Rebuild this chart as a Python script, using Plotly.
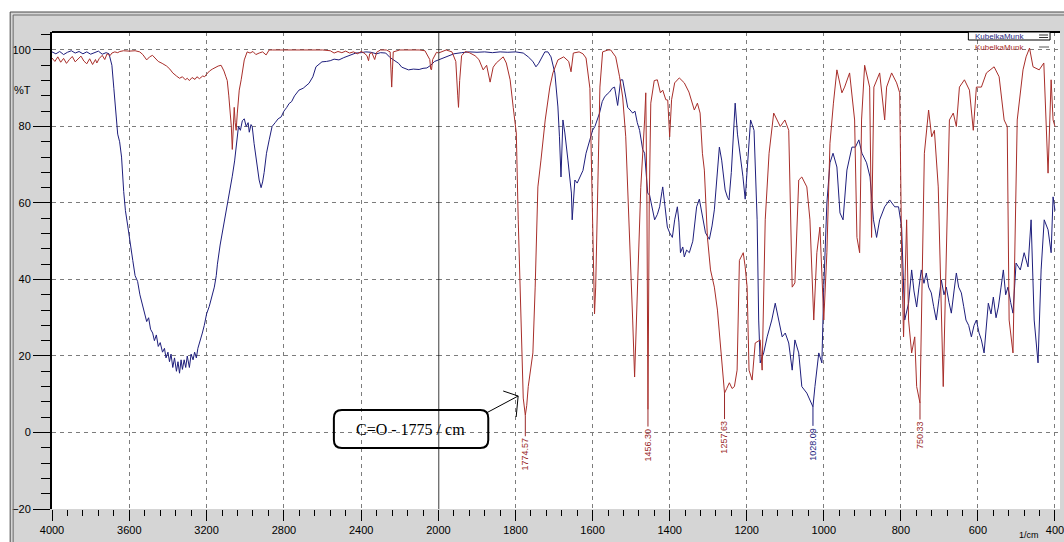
import plotly.graph_objects as go

# ---------------- data ----------------
series_names = ["KubelkaMunk", "KubelkaMunk"]

# blue spectrum, 4000 -> 2000 1/cm
blue_wn_high = [4000, 3980, 3960, 3940, 3920, 3900, 3880, 3860, 3840, 3820,
                3800, 3780, 3760, 3740, 3720, 3705, 3690, 3680, 3670, 3660,
                3650, 3640, 3629, 3620, 3608, 3595, 3582, 3570, 3557, 3545,
                3535, 3521, 3510, 3500, 3490, 3479, 3470, 3460, 3450, 3440,
                3428, 3418, 3410, 3400, 3392, 3384, 3375, 3366, 3356, 3348,
                3340, 3332, 3325, 3316, 3308, 3300, 3289, 3280, 3270, 3262,
                3253, 3245, 3235, 3222, 3212, 3200, 3186, 3175, 3160, 3150,
                3144, 3130, 3119, 3105, 3093, 3080, 3067, 3055, 3046, 3035,
                3025, 3015, 3005, 2995, 2985, 2979, 2970, 2964, 2954, 2945,
                2938, 2928, 2918, 2910, 2902, 2890, 2876, 2861, 2845, 2830,
                2814, 2800, 2785, 2773, 2760, 2745, 2722, 2700, 2670, 2650,
                2634, 2615, 2603, 2580, 2560, 2540, 2515, 2490, 2460, 2428,
                2400, 2376, 2350, 2320, 2300, 2273, 2250, 2220, 2206, 2190,
                2170, 2155, 2130, 2100, 2080, 2060, 2040, 2020, 2000]
blue_t_high = [99.5, 99.0, 99.6, 98.8, 99.4, 99.8, 99.2, 99.6, 99.0, 99.5,
               98.9, 99.4, 99.7, 98.9, 99.3, 99.0, 96.0, 90.0, 83.0, 78.0,
               76.0, 72.0, 63.0, 58.0, 54.0, 49.0, 45.0, 41.0, 39.5, 36.0,
               34.0, 31.5, 29.0, 30.0, 27.0, 26.0, 24.0, 25.5, 22.5, 23.5,
               21.0, 22.0, 19.5, 21.0, 18.5, 20.5, 17.0, 19.5, 16.0, 18.5,
               15.5, 19.0, 16.5, 19.0, 17.0, 20.0, 17.0, 20.5, 19.0, 21.0,
               19.5, 22.0, 23.5, 26.0, 28.0, 31.0, 33.0, 35.0, 38.0, 41.0,
               44.0, 49.0, 52.0, 56.0, 59.0, 63.0, 67.0, 71.0, 76.0, 80.0,
               79.0, 81.5, 82.0, 80.0, 81.0, 78.5, 80.5, 80.0, 75.5, 72.0,
               69.5, 66.0, 64.0, 65.5, 68.0, 73.0, 76.5, 80.0, 81.0, 82.0,
               82.5, 84.0, 85.0, 86.0, 86.5, 88.0, 89.5, 90.0, 91.3, 93.0,
               95.6, 96.5, 96.9, 97.0, 97.2, 97.6, 97.4, 98.0, 98.5, 99.2,
               99.3, 99.5, 99.4, 99.0, 99.3, 99.2, 98.0, 97.0, 96.5, 95.5,
               95.0, 94.8, 95.0, 94.9, 95.2, 95.3, 96.0, 97.0, 97.4]

# blue spectrum, 2000 -> 400 1/cm
blue_wn_low = [2000, 1980, 1960, 1940, 1920, 1900, 1880, 1860, 1840, 1820,
               1800, 1780, 1767, 1755, 1747, 1740, 1735, 1724, 1716, 1708,
               1698, 1690, 1686, 1682, 1677, 1672, 1664, 1658, 1655, 1653,
               1650, 1646, 1640, 1632, 1625, 1617, 1607, 1600, 1594, 1588,
               1582, 1575, 1569, 1562, 1556, 1549, 1543, 1535, 1530, 1527,
               1522, 1517, 1509, 1500, 1496, 1490, 1484, 1478, 1470, 1465,
               1457, 1452, 1444, 1439, 1432, 1426, 1420, 1418, 1412, 1406,
               1400, 1393, 1387, 1380, 1376, 1372, 1366, 1362, 1356, 1349,
               1340, 1336, 1330, 1323, 1316, 1307, 1297, 1290, 1284, 1278,
               1271, 1265, 1256, 1250, 1246, 1240, 1236, 1230, 1224, 1217,
               1210, 1204, 1197, 1190, 1186, 1181, 1173, 1169, 1165, 1156,
               1147, 1135, 1126, 1117, 1108, 1100, 1091, 1082, 1075, 1065,
               1057, 1044, 1036, 1028.09, 1023, 1013, 1005, 1000, 992, 984,
               976, 966, 958, 950, 940, 927, 918, 909, 901, 889,
               880, 871, 863, 855, 842, 829, 816, 806, 798, 790,
               780, 776, 772, 766, 759, 753, 747, 740, 734, 728,
               721, 715, 708, 701, 695, 688, 682, 675, 669, 662,
               656, 650, 643, 637, 631, 624, 617, 610, 604, 597,
               591, 584, 578, 573, 566, 560, 553, 547, 540, 534,
               528, 522, 515, 509, 501, 490, 480, 470, 462, 454,
               444, 436, 428, 418, 410, 405, 400]
blue_t_low = [97.4, 98.2, 99.0, 99.3, 99.5, 99.4, 99.5, 99.3, 99.5, 99.4,
              99.5, 99.2, 98.2, 97.0, 95.6, 96.5, 97.4, 99.5, 99.5, 98.2,
              94.0, 85.1, 77.3, 66.8, 81.7, 78.3, 71.2, 65.0, 62.6, 55.6,
              60.8, 66.0, 65.2, 67.0, 68.5, 73.0, 76.5, 79.0, 80.0, 82.0,
              83.5, 86.5, 87.7, 88.5, 89.0, 90.0, 90.3, 85.5, 91.0, 92.2,
              92.2, 89.0, 85.0, 84.0, 83.5, 84.0, 81.0, 79.0, 74.0, 73.0,
              62.6, 62.0, 57.4, 55.6, 57.0, 59.0, 63.0, 64.2, 59.0, 53.7,
              52.2, 51.0, 55.6, 59.0, 55.0, 47.0, 48.5, 45.9, 47.7, 47.0,
              50.0, 53.7, 59.0, 61.0, 57.0, 52.2, 50.5, 54.0, 58.2, 66.0,
              74.6, 71.2, 63.4, 61.5, 60.8, 68.0, 76.0, 86.1, 78.0, 73.0,
              67.0, 61.0, 72.0, 81.7, 80.5, 79.0, 55.6, 29.4, 18.2, 20.8,
              25.0, 29.4, 33.8, 29.4, 25.0, 26.0, 23.4, 16.3, 24.2, 20.8,
              12.0, 10.3, 8.5, 6.7, 12.0, 20.8, 18.2, 38.0, 60.0, 70.5,
              73.0, 69.4, 57.4, 55.6, 68.6, 74.6, 74.6, 76.5, 73.0, 70.5,
              66.8, 55.6, 51.0, 55.6, 59.0, 60.8, 59.0, 59.0, 53.7, 29.4,
              33.8, 38.0, 42.5, 37.0, 32.8, 38.0, 42.5, 39.0, 41.7, 38.0,
              36.5, 33.0, 29.4, 35.0, 39.9, 36.0, 38.0, 34.0, 31.2, 37.0,
              41.7, 38.0, 36.5, 33.0, 29.4, 28.0, 25.0, 28.0, 29.4, 26.0,
              24.2, 20.8, 28.0, 33.8, 31.0, 35.4, 30.0, 32.8, 38.0, 42.5,
              36.0, 38.0, 34.0, 31.2, 44.3, 42.5, 47.0, 43.3, 55.6, 29.4,
              18.2, 42.5, 55.6, 53.0, 47.0, 61.6, 58.0]

# red spectrum, 4000 -> 2000 1/cm
red_wn_high = [4000, 3985, 3970, 3955, 3940, 3925, 3910, 3895, 3880, 3865,
               3850, 3835, 3820, 3805, 3790, 3775, 3768, 3755, 3740, 3727,
               3715, 3700, 3690, 3675, 3660, 3649, 3630, 3600, 3570, 3546,
               3530, 3510, 3495, 3480, 3469, 3450, 3430, 3407, 3390, 3375,
               3356, 3340, 3325, 3310, 3300, 3289, 3275, 3260, 3250, 3237,
               3220, 3210, 3201, 3185, 3170, 3160, 3140, 3125, 3110, 3100,
               3093, 3085, 3078, 3072, 3067, 3062, 3057, 3052, 3047, 3041,
               3036, 3031, 3021, 3012, 3005, 2990, 2975, 2960, 2945, 2928,
               2910, 2892, 2876, 2860, 2800, 2700, 2600, 2560, 2540, 2520,
               2500, 2480, 2460, 2440, 2420, 2400, 2385, 2370, 2362, 2356,
               2345, 2330, 2320, 2300, 2270, 2250, 2246, 2242, 2238, 2234,
               2200, 2150, 2100, 2070, 2055, 2045, 2040, 2036, 2030, 2020,
               2010, 2000]
red_t_high = [97.9, 97.0, 98.2, 96.8, 97.8, 96.5, 97.5, 98.3, 96.9, 97.6,
              98.4, 97.1, 96.4, 97.7, 96.2, 97.5, 96.6, 97.8, 98.6, 97.5,
              99.0, 98.5, 99.2, 99.5, 99.3, 99.6, 99.8, 99.7, 99.8, 99.5,
              98.8, 97.4, 98.2, 98.6, 98.0, 97.0, 96.5, 95.8, 95.0, 94.0,
              93.2, 92.6, 93.0, 92.2, 92.6, 92.0, 92.8, 92.3, 93.0, 92.5,
              93.2, 93.0, 93.6, 94.5, 95.0, 95.3, 95.8, 96.0, 94.5, 93.0,
              92.0, 88.0, 84.0, 80.0, 74.0, 78.0, 85.0, 81.0, 79.0, 83.5,
              87.0, 89.5, 92.2, 95.5, 97.4, 99.5, 99.2, 99.6, 98.8, 99.2,
              99.5, 98.7, 100, 100, 100, 100, 100, 99.8, 99.2, 99.6,
              99.3, 99.7, 99.2, 99.5, 99.0, 99.6, 99.2, 98.5, 97.2, 99.0,
              99.3, 97.5, 99.4, 100, 100, 99.5, 95.0, 90.3, 95.0, 99.5,
              100, 100, 100, 99.8, 98.5, 97.5, 95.0, 94.8, 97.5, 98.5,
              99.4, 99.2]

# red spectrum, 2000 -> 400 1/cm
red_wn_low = [2000, 1990, 1980, 1965, 1955, 1950, 1948, 1945, 1940, 1930,
              1920, 1905, 1895, 1884, 1875, 1866, 1858, 1850, 1840, 1832,
              1824, 1814, 1806, 1798, 1793, 1788, 1785, 1780, 1774.57, 1771,
              1767, 1760, 1755, 1749, 1742, 1734, 1723, 1711, 1703, 1690,
              1675, 1662, 1656, 1650, 1635, 1625, 1617, 1607, 1603, 1598,
              1595, 1592, 1586, 1581, 1574, 1560, 1553, 1540, 1530, 1522,
              1514, 1505, 1496, 1491, 1488, 1483, 1475, 1465, 1462, 1459,
              1456.30, 1453, 1449, 1440, 1432, 1424, 1418, 1410, 1405, 1400,
              1395, 1387, 1375, 1362, 1350, 1336, 1328, 1321, 1315, 1310,
              1302, 1294, 1284, 1276, 1268, 1262, 1257.63, 1252, 1245, 1238,
              1232, 1225, 1219, 1209, 1204, 1199, 1194, 1186, 1178, 1165,
              1160, 1152, 1142, 1130, 1121, 1113, 1101, 1091, 1082, 1075,
              1065, 1057, 1044, 1036, 1026, 1018, 1010, 1005, 1000, 992,
              984, 975, 966, 953, 946, 933, 920, 914, 907, 902,
              894, 881, 876, 870, 855, 842, 837, 824, 811, 803,
              798, 793, 785, 780, 772, 764, 759, 750.33, 745, 739,
              728, 720, 713, 703, 690, 682, 674, 664, 656, 648,
              635, 622, 612, 604, 591, 578, 558, 545, 532, 524,
              519, 509, 503, 498, 483, 475, 466, 457, 441, 429,
              418, 410, 405, 400]
red_t_low = [99.2, 99.6, 100, 99.5, 97.0, 88.0, 85.0, 92.0, 98.5, 99.6,
             99.3, 98.5, 97.5, 94.8, 96.0, 91.6, 95.5, 96.6, 97.6, 98.2,
             96.6, 92.2, 85.0, 78.3, 55.6, 38.0, 20.8, 9.0, 4.5, 7.0,
             12.0, 17.0, 20.8, 38.0, 64.2, 71.2, 81.7, 90.3, 94.0, 97.4,
             98.2, 97.0, 94.3, 99.2, 99.5, 99.0, 97.9, 90.0, 73.0, 46.9,
             31.0, 38.0, 64.0, 90.3, 99.5, 100, 100, 98.2, 93.0, 87.7,
             77.3, 55.6, 29.4, 14.5, 25.0, 38.0, 64.0, 81.7, 88.8, 60.0,
             6.0, 60.0, 86.1, 92.0, 92.2, 88.8, 89.5, 87.0, 86.9, 77.3,
             87.0, 91.4, 92.7, 91.4, 89.0, 84.3, 86.1, 83.5, 73.0, 68.6,
             51.0, 42.5, 38.0, 32.0, 22.0, 14.0, 10.3, 11.5, 13.0, 11.5,
             12.0, 16.3, 45.0, 47.0, 43.3, 38.0, 16.3, 13.7, 23.4, 24.2,
             16.3, 55.6, 73.0, 83.5, 81.7, 80.0, 81.7, 79.0, 38.0, 39.1,
             66.0, 66.8, 64.2, 55.6, 29.4, 47.0, 53.7, 42.5, 29.4, 47.0,
             75.6, 86.1, 94.8, 88.8, 90.3, 94.0, 81.7, 51.0, 47.0, 81.7,
             96.0, 90.3, 51.0, 90.3, 94.0, 81.7, 90.3, 94.0, 91.4, 88.8,
             47.0, 25.0, 55.6, 29.4, 20.8, 25.0, 12.0, 7.7, 38.0, 73.0,
             84.3, 77.3, 79.0, 64.2, 12.0, 47.0, 81.7, 83.5, 80.0, 90.3,
             92.2, 89.5, 79.0, 90.3, 90.3, 94.0, 95.6, 93.0, 81.7, 80.0,
             29.4, 20.8, 55.6, 81.7, 94.8, 98.2, 100.5, 95.6, 94.8, 96.6,
             67.8, 92.2, 81.7, 80.0]

x_ticks_high = [4000, 3600, 3200, 2800, 2400]
x_ticks_low = [2000, 1800, 1600, 1400, 1200, 1000, 800, 600, 400]
y_ticks = [-20, 0, 20, 40, 60, 80, 100]

peak_wn = [1774.57, 1456.30, 1257.63, 1028.09, 750.33]
peak_text = ["1774.57", "1456.30", "1257.63", "1028.09", "750.33"]
peak_series = ["red", "red", "red", "blue", "red"]

annotation_text = "C=O - 1775 / cm"

assert len(blue_wn_high) == len(blue_t_high)
assert len(blue_wn_low) == len(blue_t_low)
assert len(red_wn_high) == len(red_t_high)
assert len(red_wn_low) == len(red_t_low)

# ---------------- layout helpers ----------------
W, H = 1064, 542
ML, MR, MT, MB = 52, 0, 32, 33
PW, PH = W - ML - MR, H - MT - MB
SPLIT_PX = 440
f = (SPLIT_PX - ML) / PW


def xp(px):
    return (px - ML) / PW


def yp(py):
    return (H - MB - py) / PH


BLUE = "#1e1e7c"
RED = "#a82e2a"
GRID = "#7c7c7c"
PANEL = "#d5d5d5"
FONT = "Liberation Sans, Arial, sans-serif"

fig = go.Figure()

fig.add_trace(go.Scatter(x=blue_wn_high, y=blue_t_high, xaxis="x", yaxis="y", mode="lines",
                         line=dict(color=BLUE, width=1), name=series_names[0], showlegend=False))
fig.add_trace(go.Scatter(x=blue_wn_low, y=blue_t_low, xaxis="x2", yaxis="y", mode="lines",
                         line=dict(color=BLUE, width=1), name=series_names[0], showlegend=False))
fig.add_trace(go.Scatter(x=red_wn_high, y=red_t_high, xaxis="x", yaxis="y", mode="lines",
                         line=dict(color=RED, width=1), name=series_names[1], showlegend=False))
fig.add_trace(go.Scatter(x=red_wn_low, y=red_t_low, xaxis="x2", yaxis="y", mode="lines",
                         line=dict(color=RED, width=1), name=series_names[1], showlegend=False))

tickfont = dict(family=FONT, size=11, color="black")
common_x = dict(showline=False, ticks="outside", ticklen=11, tickwidth=1, tickcolor="black",
                showgrid=True, gridcolor=GRID, gridwidth=1, griddash="4px,4px",
                zeroline=False, tickfont=tickfont, ticklabeloverflow="allow", anchor="y")

fig.update_layout(
    width=W, height=H, autosize=False,
    margin=dict(l=ML, r=MR, t=MT, b=MB, pad=0),
    paper_bgcolor=PANEL, plot_bgcolor="white",
    showlegend=False,
    xaxis=dict(domain=[0, f], range=[4000, 2000], tickmode="array", tickvals=x_ticks_high,
               minor=dict(dtick=80, tick0=0, ticks="outside", ticklen=6, tickcolor="black", showgrid=False),
               **common_x),
    xaxis2=dict(domain=[f, 1], range=[2000, 387], tickmode="array", tickvals=x_ticks_low,
                minor=dict(dtick=40, tick0=0, ticks="outside", ticklen=6, tickcolor="black", showgrid=False),
                **common_x),
    yaxis=dict(range=[-20, 104.7], tickmode="array", tickvals=y_ticks, anchor="x",
               ticks="outside", ticklen=17, tickwidth=1, tickcolor="black",
               minor=dict(dtick=4, tick0=0, ticks="outside", ticklen=9, tickcolor="black", showgrid=False),
               showline=True, linecolor="black", linewidth=2,
               showgrid=True, gridcolor=GRID, gridwidth=1, griddash="4px,4px",
               zeroline=False, tickfont=tickfont),
)

shapes = []
# white outside of the grey panel (top and left strip)
shapes.append(dict(type="rect", xref="paper", yref="paper", x0=xp(-20), x1=xp(W + 20),
                   y0=yp(12), y1=yp(-20), fillcolor="white", line=dict(width=0), layer="below"))
shapes.append(dict(type="rect", xref="paper", yref="paper", x0=xp(-20), x1=xp(10),
                   y0=yp(H + 20), y1=yp(-20), fillcolor="white", line=dict(width=0), layer="below"))
# panel frame lines
for off, col in ((10, "#4a4a4a"), (13, "#6a6a6a")):
    shapes.append(dict(type="line", xref="paper", yref="paper", x0=xp(off), x1=xp(off),
                       y0=yp(off + 2), y1=yp(H + 5), line=dict(color=col, width=1)))
    shapes.append(dict(type="line", xref="paper", yref="paper", x0=xp(off), x1=xp(W + 5),
                       y0=yp(off + 2), y1=yp(off + 2), line=dict(color=col, width=1)))
# top border of plotting area
shapes.append(dict(type="line", xref="paper", yref="paper", x0=0, x1=1, y0=1, y1=1,
                   line=dict(color="black", width=2)))
# scale-change line at 2000 1/cm
shapes.append(dict(type="line", xref="x2", yref="paper", x0=2000, x1=2000, y0=0, y1=1,
                   line=dict(color="black", width=1.5)))

# rounded callout box
bx0, bx1, by0, by1, r = 335, 490, 410, 448, 8
path = (f"M {xp(bx0 + r)},{yp(by0)} L {xp(bx1 - r)},{yp(by0)} "
        f"Q {xp(bx1)},{yp(by0)} {xp(bx1)},{yp(by0 + r)} L {xp(bx1)},{yp(by1 - r)} "
        f"Q {xp(bx1)},{yp(by1)} {xp(bx1 - r)},{yp(by1)} L {xp(bx0 + r)},{yp(by1)} "
        f"Q {xp(bx0)},{yp(by1)} {xp(bx0)},{yp(by1 - r)} L {xp(bx0)},{yp(by0 + r)} "
        f"Q {xp(bx0)},{yp(by0)} {xp(bx0 + r)},{yp(by0)} Z")
shapes.append(dict(type="path", xref="paper", yref="paper", path=path,
                   line=dict(color="black", width=2), fillcolor="rgba(0,0,0,0)"))
# callout arrow
for (ax0, ay0, ax1, ay1) in ((488, 413, 520, 396), (505, 391, 520, 396), (520, 396, 518, 417)):
    shapes.append(dict(type="line", xref="paper", yref="paper", x0=xp(ax0), y0=yp(ay0),
                       x1=xp(ax1), y1=yp(ay1), line=dict(color="black", width=1)))

# legend (drawn like the original: text then line sample)
shapes.append(dict(type="rect", xref="paper", yref="paper", x0=xp(972), x1=xp(1054),
                   y0=yp(40), y1=yp(32), line=dict(color="black", width=1), fillcolor="white"))
shapes.append(dict(type="line", xref="paper", yref="paper", x0=xp(1043), x1=xp(1052),
                   y0=yp(35), y1=yp(35), line=dict(color="#333333", width=1)))
shapes.append(dict(type="line", xref="paper", yref="paper", x0=xp(1043), x1=xp(1052),
                   y0=yp(37.5), y1=yp(37.5), line=dict(color="#333333", width=1)))
shapes.append(dict(type="line", xref="paper", yref="paper", x0=xp(1043), x1=xp(1053),
                   y0=yp(47), y1=yp(47), line=dict(color="#555555", width=1)))

fig.update_layout(shapes=shapes)

annotations = []
annotations.append(dict(xref="paper", yref="paper", x=xp(33), y=yp(90), text="%T", showarrow=False,
                        xanchor="right", yanchor="middle", font=dict(family=FONT, size=11, color="black")))
annotations.append(dict(xref="paper", yref="paper", x=xp(1033), y=yp(535), text="1/cm", showarrow=False,
                        xanchor="center", yanchor="middle", font=dict(family=FONT, size=9, color="black")))
annotations.append(dict(xref="paper", yref="paper", x=xp(412), y=yp(429), text=annotation_text,
                        showarrow=False, xanchor="center", yanchor="middle",
                        font=dict(family="Liberation Serif, Times New Roman, serif", size=16, color="black")))
annotations.append(dict(xref="paper", yref="paper", x=xp(1003), y=yp(36), text=series_names[0],
                        showarrow=False, xanchor="center", yanchor="middle",
                        font=dict(family=FONT, size=8, color=BLUE)))
annotations.append(dict(xref="paper", yref="paper", x=xp(1003), y=yp(47), text=series_names[1],
                        showarrow=False, xanchor="center", yanchor="middle",
                        font=dict(family=FONT, size=8, color=RED)))

label_offsets = [39, 35, 44, 37, 32]
for wn, txt, ser, off in zip(peak_wn, peak_text, peak_series, label_offsets):
    if ser == "red":
        val = red_t_low[red_wn_low.index(wn)]
        col = "#9a2a2a"
    else:
        val = blue_t_low[blue_wn_low.index(wn)]
        col = "#1e1e7c"
    annotations.append(dict(x=wn, y=val, xref="x2", yref="y", text=txt, textangle=-90,
                            showarrow=True, arrowhead=0, arrowwidth=1, arrowcolor=col,
                            ax=0, ay=off, standoff=0, font=dict(family=FONT, size=9, color=col)))

fig.update_layout(annotations=annotations)

fig.write_html("out.html", config={"displayModeBar": False})
